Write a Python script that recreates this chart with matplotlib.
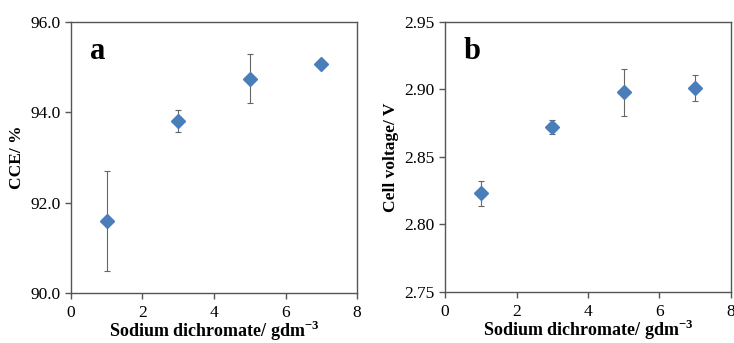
import matplotlib
matplotlib.use('Agg')
import matplotlib.pyplot as plt

plt.rcParams['font.family'] = ['Liberation Serif', 'DejaVu Serif']
plt.rcParams['mathtext.fontset'] = 'custom'
plt.rcParams['mathtext.rm'] = 'Liberation Serif:bold'
plt.rcParams['mathtext.bf'] = 'Liberation Serif:bold'

# dichromate concentration, g/dm3
conc = [1, 3, 5, 7]

# panel a: current efficiency
cce = [91.59, 93.81, 94.74, 95.06]
cce_err = [1.11, 0.24, 0.54, 0.0]

# panel b: cell voltage
volt = [2.823, 2.872, 2.898, 2.901]
volt_err = [0.009, 0.005, 0.0175, 0.0097]

blue = '#4a7ebb'
grey = '#555555'

fig = plt.figure(figsize=(7.34, 3.43), dpi=100)
ax_a = fig.add_axes([0.0967, 0.146, 0.3897, 0.790])
ax_b = fig.add_axes([0.6063, 0.149, 0.3896, 0.787])

def style(ax, ylim, yticks, fmt, ylabel, letter):
    ax.set_xlim(0, 8)
    ax.set_ylim(*ylim)
    ax.set_xticks([0, 2, 4, 6, 8])
    ax.set_yticks(yticks)
    ax.set_yticklabels([fmt.format(t) for t in yticks])
    for s in ax.spines.values():
        s.set_color(grey)
        s.set_linewidth(1.0)
    ax.tick_params(direction='out', length=4, width=1, color=grey,
                   labelsize=12.5)
    ax.tick_params(axis='x', pad=4.5)
    ax.tick_params(axis='y', pad=3.5)
    ax.set_xlabel('Sodium dichromate/ gdm$^{-3}$', fontsize=13,
                  fontweight='bold', labelpad=-1)
    ax.set_ylabel(ylabel, fontsize=12.5, fontweight='bold', labelpad=4)
    ax.text(0.065, 0.863, letter, transform=ax.transAxes, fontsize=22,
            fontweight='bold', va='baseline', ha='left')

ax_a.errorbar(conc, cce, yerr=cce_err, fmt='D', color=blue, ms=7.5,
              ecolor='#666666', elinewidth=0.8, capsize=2.5, capthick=0.8)
style(ax_a, (90, 96), [90, 92, 94, 96], '{:.1f}', 'CCE/ %', 'a')

ax_b.errorbar(conc, volt, yerr=volt_err, fmt='D', color=blue, ms=7.5,
              ecolor='#666666', elinewidth=0.8, capsize=2.5, capthick=0.8)
style(ax_b, (2.75, 2.95), [2.75, 2.80, 2.85, 2.90, 2.95], '{:.2f}',
      'Cell voltage/ V', 'b')

fig.savefig('out.png', dpi=100)
